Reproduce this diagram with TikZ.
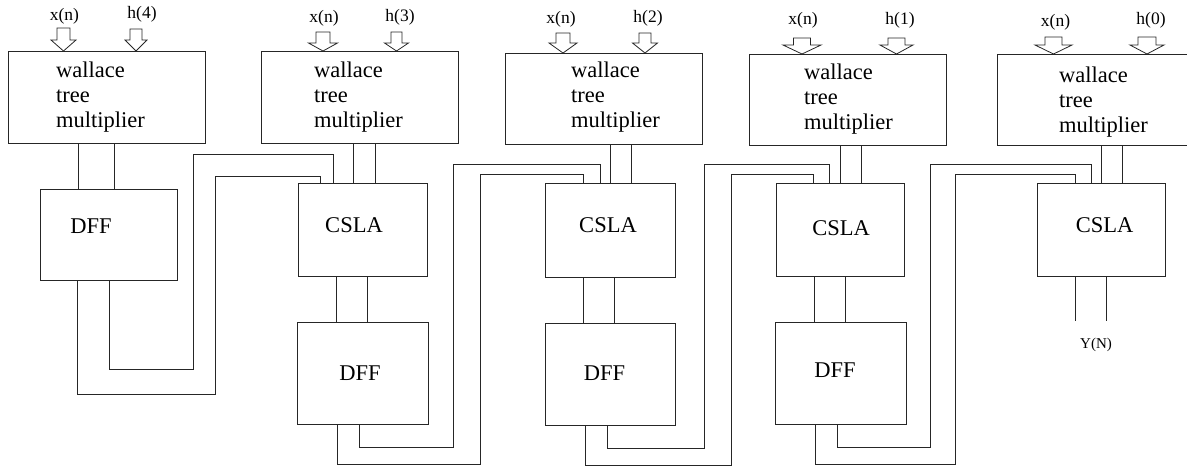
\documentclass[tikz,border=0pt]{standalone}
\usepackage{fontspec}
\setmainfont{Liberation Serif}
\tikzset{
  wire/.style={draw=black!85, line width=0.8pt},
  blk/.style={draw=black!85, line width=0.8pt, inner sep=0pt, anchor=north west},
  wtext/.style={anchor=base west, inner sep=0pt, font=\fontsize{22.5}{25}\selectfont},
  btext/.style={inner sep=0pt, font=\fontsize{22.5}{25}\selectfont},
  ptext/.style={inner sep=0pt, font=\fontsize{17.5}{20}\selectfont},
}
% hollow input arrow: centre x, top, shaft half width, head half width, head start, tip
\newcommand{\inarrow}[6]{%
  \draw[wire] ({#1-#3},#2) -- ({#1+#3},#2) -- ({#1+#3},#5) -- ({#1+#4},#5) -- (#1,#6)
    -- ({#1-#4},#5) -- ({#1-#3},#5) -- cycle;}
% stacked label inside a multiplier block
\newcommand{\wallacetext}[3]{%
  \node[wtext] (#1a) at (#2,#3) {wallace};
  \node[wtext] (#1b) at (#2,{#3+25}) {tree};
  \node[wtext] (#1c) at (#2,{#3+50}) {multiplier};}
\begin{document}
\begin{tikzpicture}[x=1pt,y=-1pt]
\useasboundingbox (0,0) rectangle (1187,467);

% ---- multiplier blocks ----
\node[blk, minimum width=197pt, minimum height=92pt] (w1) at (8,51) {};
\node[blk, minimum width=197pt, minimum height=92pt] (w2) at (261,51) {};
\node[blk, minimum width=197pt, minimum height=91pt] (w3) at (505,53) {};
\node[blk, minimum width=197pt, minimum height=91pt] (w4) at (749,54) {};
\node[blk, minimum width=200pt, minimum height=91pt] (w5) at (997,54) {};

\wallacetext{t1}{56}{77.5}
\wallacetext{t2}{314}{77.5}
\wallacetext{t3}{571}{77.5}
\wallacetext{t4}{804}{79.5}
\wallacetext{t5}{1059}{82}

% ---- inputs ----
\node[ptext] (x1) at (64.5,16) {x(n)};
\node[ptext] (h1) at (142,14) {h(4)};
\node[ptext] (x2) at (324,18) {x(n)};
\node[ptext] (h2) at (400,17) {h(3)};
\node[ptext] (x3) at (561,19.5) {x(n)};
\node[ptext] (h3) at (648,18) {h(2)};
\node[ptext] (x4) at (803,20) {x(n)};
\node[ptext] (h4) at (900,20) {h(1)};
\node[ptext] (x5) at (1055.5,22) {x(n)};
\node[ptext] (h5) at (1151,20) {h(0)};

\inarrow{63.5}{28}{6.5}{12.5}{40}{51}
\inarrow{136}{29}{6}{11}{40}{51}
\inarrow{323}{32}{7}{14.5}{43}{51}
\inarrow{396.5}{32}{5.5}{12}{43}{51}
\inarrow{563}{33}{7}{14}{43}{53}
\inarrow{645}{33}{6}{12.5}{43}{53}
\inarrow{802}{38}{8.5}{19}{45}{54}
\inarrow{896.5}{38}{8.5}{16.5}{45}{54}
\inarrow{1053.5}{37}{8.5}{18.5}{45}{54}
\inarrow{1147}{37}{9}{17}{45}{54}

% ---- adder and register blocks ----
\node[blk, minimum width=137pt, minimum height=91pt] (d1) at (40,189) {};
\node[blk, minimum width=129pt, minimum height=93pt] (c2) at (298,183) {};
\node[blk, minimum width=131pt, minimum height=102pt] (d2) at (297,322) {};
\node[blk, minimum width=130pt, minimum height=94pt] (c3) at (545,183) {};
\node[blk, minimum width=130pt, minimum height=102pt] (d3) at (545,323) {};
\node[blk, minimum width=128pt, minimum height=93pt] (c4) at (776,183) {};
\node[blk, minimum width=131pt, minimum height=102pt] (d4) at (775,322) {};
\node[blk, minimum width=128pt, minimum height=93pt] (c5) at (1037,183) {};

\node[btext] (d1t) at (91,226.5) {DFF};
\node[btext] (c2t) at (354,225) {CSLA};
\node[btext] (d2t) at (360,373.5) {DFF};
\node[btext] (c3t) at (608,225.5) {CSLA};
\node[btext] (d3t) at (604.5,373.5) {DFF};
\node[btext] (c4t) at (841,228.5) {CSLA};
\node[btext] (d4t) at (835,370.5) {DFF};
\node[btext] (c5t) at (1104.5,225.5) {CSLA};

% ---- vertical links ----
\foreach \x in {78,114} \draw[wire] (\x,0 |- w1.south) -- (\x,0 |- d1.north);
\foreach \x in {353,375} \draw[wire] (\x,0 |- w2.south) -- (\x,0 |- c2.north);
\foreach \x in {336,367} \draw[wire] (\x,0 |- c2.south) -- (\x,0 |- d2.north);
\foreach \x in {610,631} \draw[wire] (\x,0 |- w3.south) -- (\x,0 |- c3.north);
\foreach \x in {583,614} \draw[wire] (\x,0 |- c3.south) -- (\x,0 |- d3.north);
\foreach \x in {840,861} \draw[wire] (\x,0 |- w4.south) -- (\x,0 |- c4.north);
\foreach \x in {814,845} \draw[wire] (\x,0 |- c4.south) -- (\x,0 |- d4.north);
\foreach \x in {1101,1122} \draw[wire] (\x,0 |- w5.south) -- (\x,0 |- c5.north);

% ---- register feedback to next adder ----
\draw[wire] (77,0 |- d1.south) |- (215,394) |- (320,176) -- (320,0 |- c2.north);
\draw[wire] (109,0 |- d1.south) |- (193,369) |- (333,154) -- (333,0 |- c2.north);
\draw[wire] (337,0 |- d2.south) |- (480,464) |- (583,174) -- (583,0 |- c3.north);
\draw[wire] (359,0 |- d2.south) |- (453,447) |- (600,164) -- (600,0 |- c3.north);
\draw[wire] (585,0 |- d3.south) |- (731,465) |- (813,174) -- (813,0 |- c4.north);
\draw[wire] (607,0 |- d3.south) |- (704,448) |- (829,164) -- (829,0 |- c4.north);
\draw[wire] (815,0 |- d4.south) |- (955,464) |- (1075,174) -- (1075,0 |- c5.north);
\draw[wire] (837,0 |- d4.south) |- (930,447) |- (1091,164) -- (1091,0 |- c5.north);

% ---- output ----
\coordinate (o1) at (1075,321);
\coordinate (o2) at (1106,321);
\draw[wire] (1075,0 |- c5.south) -- (o1);
\draw[wire] (1106,0 |- c5.south) -- (o2);
\node[inner sep=0pt, font=\fontsize{15}{17}\selectfont] (yn) at (1096,345) {Y(N)};
\end{tikzpicture}
\end{document}
